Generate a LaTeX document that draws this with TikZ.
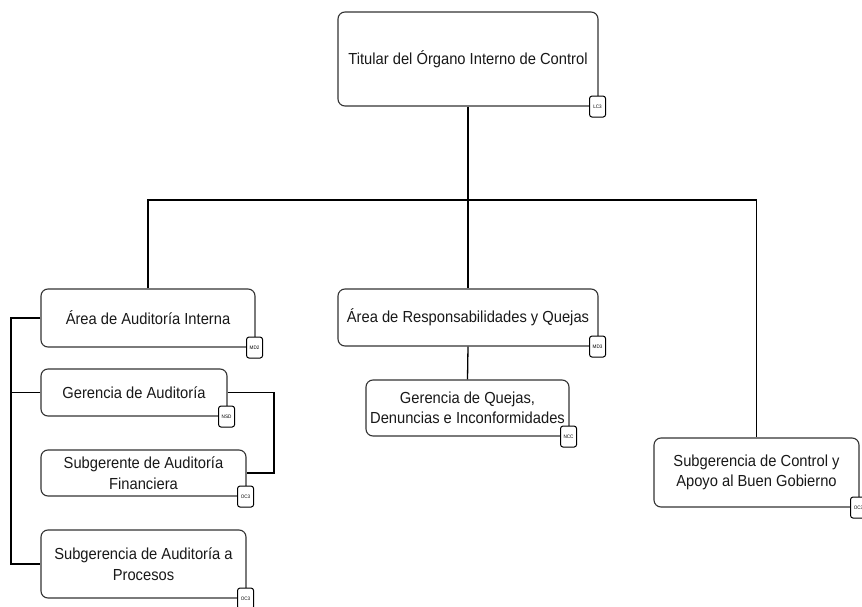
\documentclass[tikz,border=0pt]{standalone}
\usepackage{fontspec}
\setmainfont[FakeStretch=0.92]{Liberation Sans}
\begin{document}
\begin{tikzpicture}[x=1pt,y=-1pt,
  orgbox/.style={draw=black!80, line width=1.1pt, rounded corners=7pt, fill=white,
    align=center, inner sep=2pt, font=\fontsize{16}{20.5}\selectfont, text=black!90},
  badge/.style={draw=black, line width=1pt, rounded corners=2.5pt, fill=white,
    minimum width=16pt, minimum height=21pt, inner sep=0pt, font=\fontsize{5}{5}\selectfont},
  link/.style={draw=black, line width=1.3pt}]
\useasboundingbox (0,0) rectangle (862,607);
% boxes
\node[orgbox, minimum width=260pt, minimum height=94pt] (top) at (468,59) {Titular del Órgano Interno de Control};
\node[orgbox, minimum width=214pt, minimum height=58pt] (aai) at (148,318) {Área de Auditoría Interna};
\node[orgbox, minimum width=186pt, minimum height=47pt] (ga) at (134,392.5) {Gerencia de Auditoría};
\node[orgbox, minimum width=205pt, minimum height=46pt] (saf) at (143.5,473) {Subgerente de Auditoría\\Financiera};
\node[orgbox, minimum width=205pt, minimum height=68pt] (sap) at (143.5,564) {Subgerencia de Auditoría a\\Procesos};
\node[orgbox, minimum width=260pt, minimum height=57pt] (arq) at (468,317.5) {Área de Responsabilidades y Quejas};
\node[orgbox, minimum width=203pt, minimum height=56pt] (gq) at (467.5,408) {Gerencia de Quejas,\\Denuncias e Inconformidades};
\node[orgbox, minimum width=205pt, minimum height=69pt] (scg) at (756.5,472.5) {Subgerencia de Control y\\Apoyo al Buen Gobierno};
% badges
\node[badge] (btop) at ([xshift=-1pt]top.south east) {LC3};
\node[badge] (baai) at ([xshift=-1pt]aai.south east) {MD2};
\node[badge] (bga) at ([xshift=-1pt]ga.south east) {NSD};
\node[badge] (bsaf) at ([xshift=-1pt]saf.south east) {OC3};
\node[badge] (bsap) at ([xshift=-1pt]sap.south east) {OC3};
\node[badge] (barq) at ([xshift=-1pt]arq.south east) {MD3};
\node[badge] (bgq) at ([xshift=-1pt]gq.south east) {NCC};
\node[badge] (bscg) at ([xshift=-1pt]scg.south east) {OC3};
% connector coordinates
\coordinate (bus) at (468,200);
\coordinate (lb) at (11,0);
\coordinate (rb) at (274,0);
% connectors
\draw[link] (top.south) -- (bus);
\draw[link] (aai.north) |- (bus) -| (scg.north);
\draw[link] (bus) -- (arq.north);
\draw[link] (arq.south) -- (gq.north);
\draw[link] (aai.west) -- (aai.west -| lb) |- (sap.west);
\draw[link] (ga.west) -- (ga.west -| lb);
\draw[link] (ga.east) -- (ga.east -| rb) |- (saf.east);
\end{tikzpicture}
\end{document}
